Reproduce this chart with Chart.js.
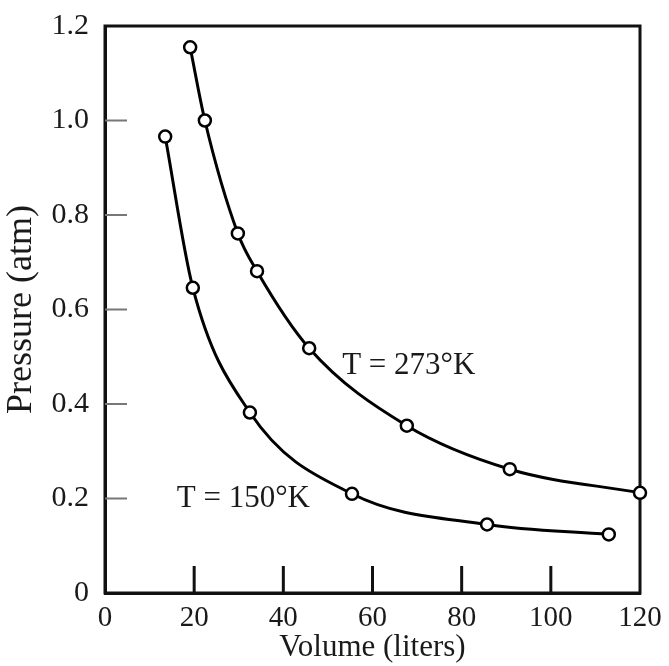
<!DOCTYPE html>
<html>
<head>
<meta charset="utf-8">
<style>
  html, body { margin: 0; padding: 0; background: #fff; }
  #wrap { width: 669px; height: 666px; }
</style>
<script src="https://cdn.jsdelivr.net/npm/chart.js@4/dist/chart.umd.min.js"></script>
</head>
<body>
<div id="wrap"><canvas id="chart"></canvas></div>
<script>
// data
const vol273 = [19.1, 22.4, 29.8, 34.1, 45.8, 67.7, 90.8, 120];
const pres273 = [1.155, 1.0, 0.761, 0.681, 0.518, 0.354, 0.262, 0.212];
const vol150 = [13.5, 19.7, 32.5, 55.4, 85.7, 113.0];
const pres150 = [0.966, 0.646, 0.382, 0.210, 0.145, 0.124];
const xTicks = [0, 20, 40, 60, 80, 100, 120];
const yTicks = [0, 0.2, 0.4, 0.6, 0.8, 1.0, 1.2];
const labels = [
  { text: "T = 273°K", x: 53.2, y: 0.48 },
  { text: "T = 150°K", x: 16.1, y: 0.2 }
];

const pts = (xs, ys) => xs.map((x, i) => ({ x, y: ys[i] }));
const serif = "'Liberation Serif', 'DejaVu Serif', serif";

const curve = (data) => ({
  data,
  showLine: true,
  clip: false,
  borderColor: "#000",
  borderWidth: 3,
  cubicInterpolationMode: "monotone",
  pointRadius: 6,
  pointBorderWidth: 2.5,
  pointBackgroundColor: "#fff",
  pointBorderColor: "#000"
});

// inward ticks, box frame, curve labels
const decor = {
  id: "decor",
  beforeDatasetsDraw(chart) {
    const { ctx, chartArea: a, scales: { x, y } } = chart;
    ctx.save();
    ctx.strokeStyle = "#111";
    ctx.lineWidth = 3;
    ctx.strokeRect(a.left, a.top, a.right - a.left, a.bottom - a.top);
    xTicks.slice(1, -1).forEach(v => {
      const px = x.getPixelForValue(v);
      ctx.beginPath(); ctx.moveTo(px, a.bottom); ctx.lineTo(px, a.bottom - 27); ctx.stroke();
    });
    ctx.strokeStyle = "#777";
    ctx.lineWidth = 2;
    yTicks.slice(1, -1).forEach(v => {
      const py = y.getPixelForValue(v);
      ctx.beginPath(); ctx.moveTo(a.left, py); ctx.lineTo(a.left + 22, py); ctx.stroke();
    });
    ctx.fillStyle = "#1a1a1a";
    ctx.font = "31px " + serif;
    ctx.textBaseline = "middle";
    labels.forEach(l => ctx.fillText(l.text, x.getPixelForValue(l.x), y.getPixelForValue(l.y)));
    ctx.restore();
  }
};

new Chart(document.getElementById("chart"), {
  type: "scatter",
  data: { datasets: [curve(pts(vol273, pres273)), curve(pts(vol150, pres150))] },
  options: {
    responsive: true,
    maintainAspectRatio: false,
    animation: false,
    layout: { padding: { top: 0, right: 29, left: 0, bottom: 0 } },
    plugins: { legend: { display: false }, tooltip: { enabled: false } },
    scales: {
      x: {
        min: 0, max: 120,
        afterBuildTicks: s => { s.ticks = xTicks.map(v => ({ value: v })); },
        afterFit: s => { s.height = 73; },
        grid: { display: false },
        border: { display: true, color: "#111", width: 3 },
        ticks: { color: "#1a1a1a", padding: 0, font: { family: serif, size: 29 } },
        title: { display: true, text: "Volume (liters)", color: "#1a1a1a", padding: 0, font: { family: serif, size: 31 } }
      },
      y: {
        min: 0, max: 1.2,
        afterBuildTicks: s => { s.ticks = yTicks.map(v => ({ value: v })); },
        afterFit: s => { s.width = 105; },
        grid: { display: false },
        border: { display: true, color: "#111", width: 3 },
        ticks: {
          color: "#1a1a1a", padding: 8, font: { family: serif, size: 30 },
          callback: v => v === 0 ? "0" : v.toFixed(1)
        },
        title: { display: true, text: "Pressure (atm)", color: "#1a1a1a", padding: 0, font: { family: serif, size: 36 } }
      }
    }
  },
  plugins: [decor]
});
</script>
</body>
</html>
